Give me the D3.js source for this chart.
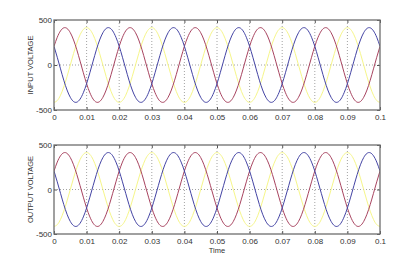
<!DOCTYPE html>
<html>
<head>
<meta charset="utf-8">
<script src="https://cdn.jsdelivr.net/npm/d3@7"></script>
<style>
  html, body { margin: 0; padding: 0; background: #ffffff; }
  svg { display: block; }
  text { font-family: "Liberation Sans", Arial, sans-serif; fill: #333; }
</style>
</head>
<body>
<svg id="chart" width="420" height="264"></svg>
<script>
// ---- Data (time in ms, voltages in V) ----
const timeMs = [0,1,2,3,4,5,6,7,8,9,10,11,12,13,14,15,16,17,18,19,
  20,21,22,23,24,25,26,27,28,29,30,31,32,33,34,35,36,37,38,39,
  40,41,42,43,44,45,46,47,48,49,50,51,52,53,54,55,56,57,58,59,
  60,61,62,63,64,65,66,67,68,69,70,71,72,73,74,75,76,77,78,79,
  80,81,82,83,84,85,86,87,88,89,90,91,92,93,94,95,96,97,98,99,100];

const inputRed = [208,308,379,413,406,359,278,169,43,-86,-208,-308,-379,-413,-406,-359,-278,-169,-43,86,
  208,308,379,413,406,359,278,169,43,-86,-208,-308,-379,-413,-406,-359,-278,-169,-43,86,
  208,308,379,413,406,359,278,169,43,-86,-208,-308,-379,-413,-406,-359,-278,-169,-43,86,
  208,308,379,413,406,359,278,169,43,-86,-208,-308,-379,-413,-406,-359,-278,-169,-43,86,
  208,308,379,413,406,359,278,169,43,-86,-208,-308,-379,-413,-406,-359,-278,-169,-43,86,208];

const inputBlue = [208,86,-43,-169,-278,-359,-406,-413,-379,-308,-208,-86,43,169,278,359,406,413,379,308,
  208,86,-43,-169,-278,-359,-406,-413,-379,-308,-208,-86,43,169,278,359,406,413,379,308,
  208,86,-43,-169,-278,-359,-406,-413,-379,-308,-208,-86,43,169,278,359,406,413,379,308,
  208,86,-43,-169,-278,-359,-406,-413,-379,-308,-208,-86,43,169,278,359,406,413,379,308,
  208,86,-43,-169,-278,-359,-406,-413,-379,-308,-208,-86,43,169,278,359,406,413,379,308,208];

const inputYellow = [-415,-395,-336,-244,-128,0,128,244,336,395,415,395,336,244,128,0,-128,-244,-336,-395,
  -415,-395,-336,-244,-128,0,128,244,336,395,415,395,336,244,128,0,-128,-244,-336,-395,
  -415,-395,-336,-244,-128,0,128,244,336,395,415,395,336,244,128,0,-128,-244,-336,-395,
  -415,-395,-336,-244,-128,0,128,244,336,395,415,395,336,244,128,0,-128,-244,-336,-395,
  -415,-395,-336,-244,-128,0,128,244,336,395,415,395,336,244,128,0,-128,-244,-336,-395,-415];

// Output panel shows the same waveforms as the input panel
const outputRed = inputRed;
const outputBlue = inputBlue;
const outputYellow = inputYellow;

const xTickValues = [0,10,20,30,40,50,60,70,80,90,100];
const xTickLabels = ["0","0.01","0.02","0.03","0.04","0.05","0.06","0.07","0.08","0.09","0.1"];
const yTickValues = [-500,0,500];
const yTickLabels = ["-500","0","500"];

const seriesColors = { yellow: "#f6f68a", red: "#a84460", blue: "#4444a4" };

// ---- Drawing ----
const svg = d3.select("#chart");

const panels = [
  { top: 20, bottom: 110, label: "INPUT VOLTAGE",
    series: [["yellow", inputYellow], ["red", inputRed], ["blue", inputBlue]] },
  { top: 145, bottom: 234, label: "OUTPUT VOLTAGE",
    series: [["yellow", outputYellow], ["red", outputRed], ["blue", outputBlue]] }
];
const left = 54, right = 380;

const x = d3.scaleLinear().domain([0, 100]).range([left, right]);

panels.forEach((p, i) => {
  const y = d3.scaleLinear().domain([-500, 500]).range([p.bottom, p.top]);
  const g = svg.append("g");

  // grid
  g.selectAll("line.vgrid").data(xTickValues.slice(1, -1)).enter().append("line")
    .attr("x1", d => x(d)).attr("x2", d => x(d))
    .attr("y1", p.top).attr("y2", p.bottom)
    .attr("stroke", "#8a8a8a").attr("stroke-width", 0.8).attr("stroke-dasharray", "1,2");
  g.append("line")
    .attr("x1", left).attr("x2", right).attr("y1", y(0)).attr("y2", y(0))
    .attr("stroke", "#8a8a8a").attr("stroke-width", 0.8).attr("stroke-dasharray", "1,2");

  // lines
  const clipId = "clip" + i;
  svg.append("clipPath").attr("id", clipId).append("rect")
    .attr("x", left).attr("y", p.top).attr("width", right - left).attr("height", p.bottom - p.top);
  p.series.forEach(([name, vals]) => {
    const line = d3.line()
      .x((d, j) => x(timeMs[j]))
      .y(d => y(d))
      .curve(d3.curveNatural);
    g.append("path").datum(vals)
      .attr("clip-path", `url(#${clipId})`)
      .attr("fill", "none").attr("stroke", seriesColors[name]).attr("stroke-width", 1)
      .attr("d", line);
  });

  // axes
  const xAxis = d3.axisBottom(x).tickValues(xTickValues)
    .tickFormat((d, k) => xTickLabels[k]).tickSizeInner(-3).tickSizeOuter(0).tickPadding(4);
  const ax = g.append("g").attr("transform", `translate(0,${p.bottom})`).call(xAxis);
  ax.select(".domain").remove();
  ax.selectAll("line").attr("stroke", "#555");
  ax.selectAll("text").attr("font-size", 8).attr("fill", "#333")
    .attr("font-family", "Liberation Sans, Arial, sans-serif");

  const xAxisTop = d3.axisTop(x).tickValues(xTickValues).tickFormat("")
    .tickSizeInner(-3).tickSizeOuter(0);
  const axt = g.append("g").attr("transform", `translate(0,${p.top})`).call(xAxisTop);
  axt.select(".domain").remove();
  axt.selectAll("line").attr("stroke", "#555");

  const yAxis = d3.axisLeft(y).tickValues(yTickValues)
    .tickFormat((d, k) => yTickLabels[k]).tickSizeInner(-3).tickSizeOuter(0).tickPadding(2);
  const ay = g.append("g").attr("transform", `translate(${left},0)`).call(yAxis);
  ay.select(".domain").remove();
  ay.selectAll("line").attr("stroke", "#555");
  ay.selectAll("text").attr("font-size", 8).attr("fill", "#333")
    .attr("font-family", "Liberation Sans, Arial, sans-serif");

  const yAxisR = d3.axisRight(y).tickValues(yTickValues).tickFormat("")
    .tickSizeInner(-3).tickSizeOuter(0);
  const ayr = g.append("g").attr("transform", `translate(${right},0)`).call(yAxisR);
  ayr.select(".domain").remove();
  ayr.selectAll("line").attr("stroke", "#555");

  // frame
  g.append("rect").attr("x", left).attr("y", p.top)
    .attr("width", right - left).attr("height", p.bottom - p.top)
    .attr("fill", "none").attr("stroke", "#6e6e6e").attr("stroke-width", 1.3);

  // y label
  g.append("text")
    .attr("transform", `translate(33,${(p.top + p.bottom) / 2}) rotate(-90)`)
    .attr("text-anchor", "middle").attr("font-size", 7.5)
    .text(p.label);
});

svg.append("text").attr("x", x(50)).attr("y", 253)
  .attr("text-anchor", "middle").attr("font-size", 7.5).text("Time");
</script>
</body>
</html>
